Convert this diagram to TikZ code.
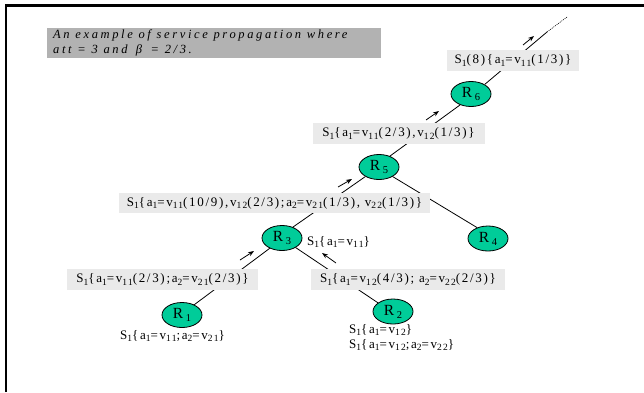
\documentclass[tikz,border=0pt]{standalone}
\usepackage{fontspec}
\setmainfont{Liberation Serif}
\newfontfamily\labfont[LetterSpace=13]{Liberation Serif}
\newfontfamily\titlefont[LetterSpace=21]{Liberation Serif}
\usetikzlibrary{arrows.meta,shapes.geometric}
\definecolor{rgreen}{RGB}{0,204,153}
\definecolor{titlegray}{RGB}{178,178,178}
\definecolor{labgray}{RGB}{234,234,234}
\newcommand\subx[1]{\raisebox{-2.6pt}{\fontsize{9.5}{9.5}\selectfont #1}}
\newcommand\Rsub[1]{\,\raisebox{-3pt}{\fontsize{10.5}{10.5}\selectfont #1}}
\begin{document}
\begin{tikzpicture}[x=1pt,y=-1pt,
  router/.style={ellipse, draw=black, line width=0.8pt, fill=rgreen, minimum width=40pt, minimum height=25pt, inner sep=0pt, font=\fontsize{15.5}{15.5}\selectfont},
  labbox/.style={fill=labgray, inner sep=0pt, font=\labfont\fontsize{13}{13}\selectfont, anchor=center},
  plain/.style={inner sep=0pt, anchor=base west, font=\labfont\fontsize{13}{13}\selectfont},
  titletext/.style={inner sep=0pt, anchor=base west, font=\titlefont\itshape\fontsize{12.5}{12.5}\selectfont},
  edge/.style={line width=0.8pt},
  flow/.style={line width=0.8pt, -{Stealth[length=6pt,width=4.5pt]}}]
\useasboundingbox (0,0) rectangle (644,392);
\fill[white] (0,0) rectangle (644,392);
\draw[line width=2.5pt] (6,392) -- (6,5.5) -- (644,5.5);
% title
\node[fill=titlegray, minimum width=334pt, minimum height=30pt, anchor=north west, inner sep=0pt] (title) at (47,28) {};
\node[titletext] (title1) at (53,38) {An example of service propagation where};
\node[titletext] (title2) at (53,53) {att = 3 and \textup{\textit{β}} = 2/3.};
% routers
\node[router] (R6) at (471,94) {R\Rsub{6}};
\node[router] (R5) at (379,167) {R\Rsub{5}};
\node[router] (R3) at (282,238) {R\Rsub{3}};
\node[router] (R1) at (182,315) {R\Rsub{1}};
\node[router] (R2) at (393,311.5) {R\Rsub{2}};
\node[router] (R4) at (488,238.5) {R\Rsub{4}};
% edges
\draw[edge] (R1.40) -- (R3.220);
\draw[edge] (R2.150) -- (R3.-35);
\draw[edge] (R3.45) -- (R5.215);
\draw[edge] (R5.-35) -- (R4.135);
\draw[edge] (R5.45) -- (R6.225);
\coordinate (top) at (547,32);
\coordinate (topend) at (567,17);
\draw[edge] (R6.35) -- (top);
\draw[line width=0.6pt, dash pattern=on 1pt off 1pt] (top) -- (topend);
% labels
\node[labbox, minimum width=132pt, minimum height=21pt] (L6) at (513,60.5) {S\subx{1}(8)\{a\subx{1}=v\subx{11}(1/3)\}};
\node[labbox, minimum width=172pt, minimum height=21pt] (L5) at (398.5,133.5) {S\subx{1}\{a\subx{1}=v\subx{11}(2/3),v\subx{12}(1/3)\}};
\node[labbox, minimum width=311pt, minimum height=20pt] (L4) at (274.5,203) {S\subx{1}\{a\subx{1}=v\subx{11}(10/9),v\subx{12}(2/3);a\subx{2}=v\subx{21}(1/3), v\subx{22}(1/3)\}};
\node[labbox, minimum width=191pt, minimum height=21pt] (L3a) at (162.5,279.5) {S\subx{1}\{a\subx{1}=v\subx{11}(2/3);a\subx{2}=v\subx{21}(2/3)\}};
\node[labbox, minimum width=194pt, minimum height=21pt] (L3b) at (408,279.5) {S\subx{1}\{a\subx{1}=v\subx{12}(4/3); a\subx{2}=v\subx{22}(2/3)\}};
\node[plain] (t3) at (307,245) {S\subx{1}\{a\subx{1}=v\subx{11}\}};
\node[plain] (t1) at (120,339) {S\subx{1}\{a\subx{1}=v\subx{11};a\subx{2}=v\subx{21}\}};
\node[plain] (t2a) at (349,333) {S\subx{1}\{a\subx{1}=v\subx{12}\}};
\node[plain] (t2b) at (349,348) {S\subx{1}\{a\subx{1}=v\subx{12};a\subx{2}=v\subx{22}\}};
% flow arrows
\coordinate (a1s) at (240,260); \coordinate (a1e) at (254,251);
\coordinate (a2s) at (336,263); \coordinate (a2e) at (322,253);
\coordinate (a3s) at (338,187); \coordinate (a3e) at (352,179);
\coordinate (a4s) at (426,120); \coordinate (a4e) at (439,111);
\coordinate (a5s) at (523,45); \coordinate (a5e) at (534,36);
\draw[flow] (a1s) -- (a1e);
\draw[flow] (a2s) -- (a2e);
\draw[flow] (a3s) -- (a3e);
\draw[flow] (a4s) -- (a4e);
\draw[flow] (a5s) -- (a5e);
\end{tikzpicture}
\end{document}
